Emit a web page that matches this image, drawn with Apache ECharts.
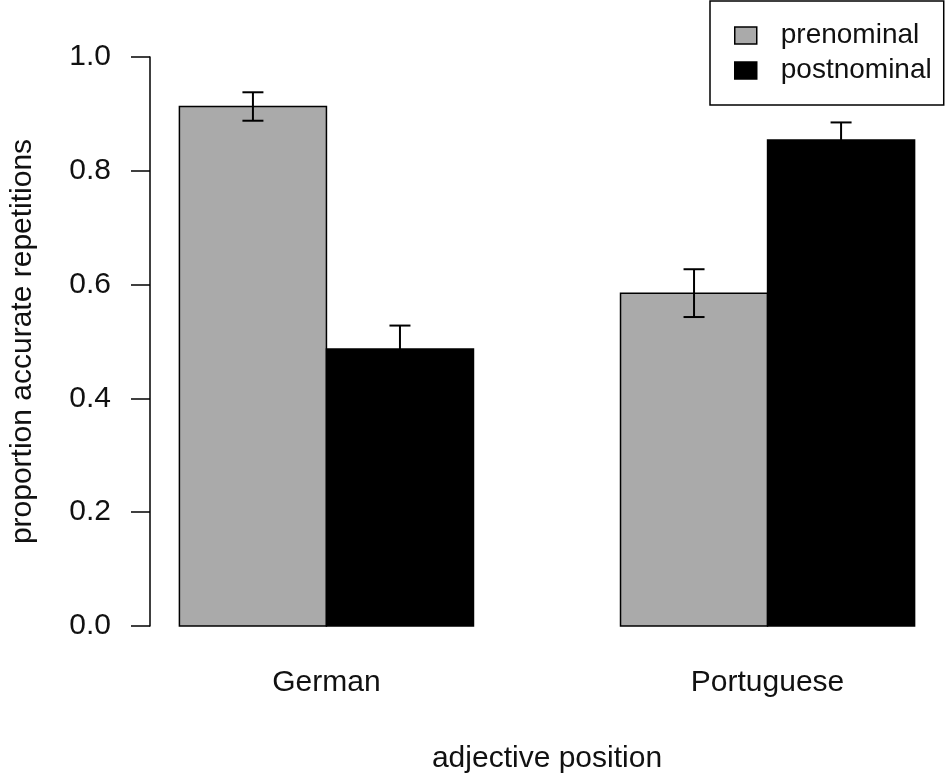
<!DOCTYPE html>
<html>
<head>
<meta charset="utf-8">
<script src="https://cdn.jsdelivr.net/npm/echarts@6/dist/echarts.min.js"></script>
<style>
  html, body { margin: 0; padding: 0; background: #fff; }
  #main { width: 945px; height: 779px; }
</style>
</head>
<body>
<div id="main"></div>
<script>
// data
var categories = ['German', 'Portuguese'];
var seriesNames = ['prenominal', 'postnominal'];
var prenominal = [0.913, 0.585];
var postnominal = [0.487, 0.854];
var prenominalErr = [0.025, 0.042];
var postnominalErr = [0.041, 0.031];
var yTicks = [0, 0.2, 0.4, 0.6, 0.8, 1.0];

var colors = ['#aaaaaa', '#000000'];
var fontName = 'Liberation Sans, Arial, sans-serif';

// barplot(beside=TRUE) layout: bars 1 unit wide, 1 unit gap between groups
function barCenter(g, j) { return 1 + g * 3 + j + 0.5; }
function groupCenter(g) { return 1 + g * 3 + 1; }

function barData(values, j) {
  return values.map(function (v, g) { return [barCenter(g, j), v]; });
}
function errData(values, errs, j) {
  return values.map(function (v, g) { return [barCenter(g, j), v - errs[g], v + errs[g]]; });
}

function renderBar(params, api) {
  var x = api.value(0), v = api.value(1);
  var p0 = api.coord([x - 0.5, v]);
  var p1 = api.coord([x + 0.5, 0]);
  return {
    type: 'rect',
    shape: { x: p0[0], y: p0[1], width: p1[0] - p0[0], height: p1[1] - p0[1] },
    style: { fill: api.visual('color'), stroke: '#000', lineWidth: 1.5 }
  };
}

function renderErr(params, api) {
  var x = api.value(0);
  var lo = api.coord([x, api.value(1)]);
  var hi = api.coord([x, api.value(2)]);
  var half = 10.5;
  var st = { stroke: '#000', lineWidth: 2 };
  return {
    type: 'group',
    children: [
      { type: 'line', shape: { x1: lo[0], y1: lo[1], x2: hi[0], y2: hi[1] }, style: st },
      { type: 'line', shape: { x1: lo[0] - half, y1: lo[1], x2: lo[0] + half, y2: lo[1] }, style: st },
      { type: 'line', shape: { x1: hi[0] - half, y1: hi[1], x2: hi[0] + half, y2: hi[1] }, style: st }
    ]
  };
}

var chart = echarts.init(document.getElementById('main'));

var option = {
  backgroundColor: '#fff',
  animation: false,
  textStyle: { fontFamily: fontName, color: '#111' },
  grid: { left: 147.5, right: 1, top: 57, bottom: 152 },
  legend: {
    left: 710,
    top: 1,
    orient: 'vertical',
    data: seriesNames.map(function (n, i) {
      return { name: n, icon: 'rect', itemStyle: { color: colors[i], borderColor: '#000', borderWidth: 1.5 } };
    }),
    itemWidth: 22,
    itemHeight: 17,
    itemGap: 0,
    padding: [17, 12, 17, 24],
    borderColor: '#000',
    borderWidth: 1.5,
    textStyle: { fontSize: 28, color: '#111', lineHeight: 35, padding: [0, 0, 0, 19] },
    selectedMode: false
  },
  xAxis: {
    type: 'value',
    min: 0.8,
    max: 6.2,
    name: 'adjective position',
    nameLocation: 'middle',
    nameGap: 118,
    nameTextStyle: { fontSize: 30, color: '#111' },
    axisLine: { show: false },
    axisTick: { show: false },
    splitLine: { show: false },
    axisLabel: {
      customValues: categories.map(function (c, g) { return groupCenter(g); }),
      formatter: function (v) {
        for (var g = 0; g < categories.length; g++) {
          if (Math.abs(groupCenter(g) - v) < 1e-6) return categories[g];
        }
        return '';
      },
      fontSize: 30,
      color: '#111',
      margin: 42
    }
  },
  yAxis: {
    type: 'value',
    min: yTicks[0],
    max: yTicks[yTicks.length - 1],
    interval: 0.2,
    name: 'proportion accurate repetitions',
    nameLocation: 'middle',
    nameGap: 112,
    nameTextStyle: { fontSize: 30, color: '#111' },
    axisLine: { show: true, lineStyle: { color: '#000', width: 1.5 } },
    axisTick: { show: true, length: 19, lineStyle: { color: '#000', width: 1.5 } },
    splitLine: { show: false },
    axisLabel: {
      fontSize: 30,
      color: '#111',
      margin: 39,
      formatter: function (v) { return v.toFixed(1); }
    }
  },
  series: [
    {
      name: seriesNames[0], type: 'custom', renderItem: renderBar,
      itemStyle: { color: colors[0] }, encode: { x: 0, y: 1 },
      data: barData(prenominal, 0)
    },
    {
      name: seriesNames[1], type: 'custom', renderItem: renderBar,
      itemStyle: { color: colors[1] }, encode: { x: 0, y: 1 },
      data: barData(postnominal, 1)
    },
    {
      type: 'custom', renderItem: renderErr, encode: { x: 0, y: [1, 2] }, z: 5,
      data: errData(prenominal, prenominalErr, 0)
    },
    {
      type: 'custom', renderItem: renderErr, encode: { x: 0, y: [1, 2] }, z: 5,
      data: errData(postnominal, postnominalErr, 1)
    }
  ]
};

chart.setOption(option);
</script>
</body>
</html>
